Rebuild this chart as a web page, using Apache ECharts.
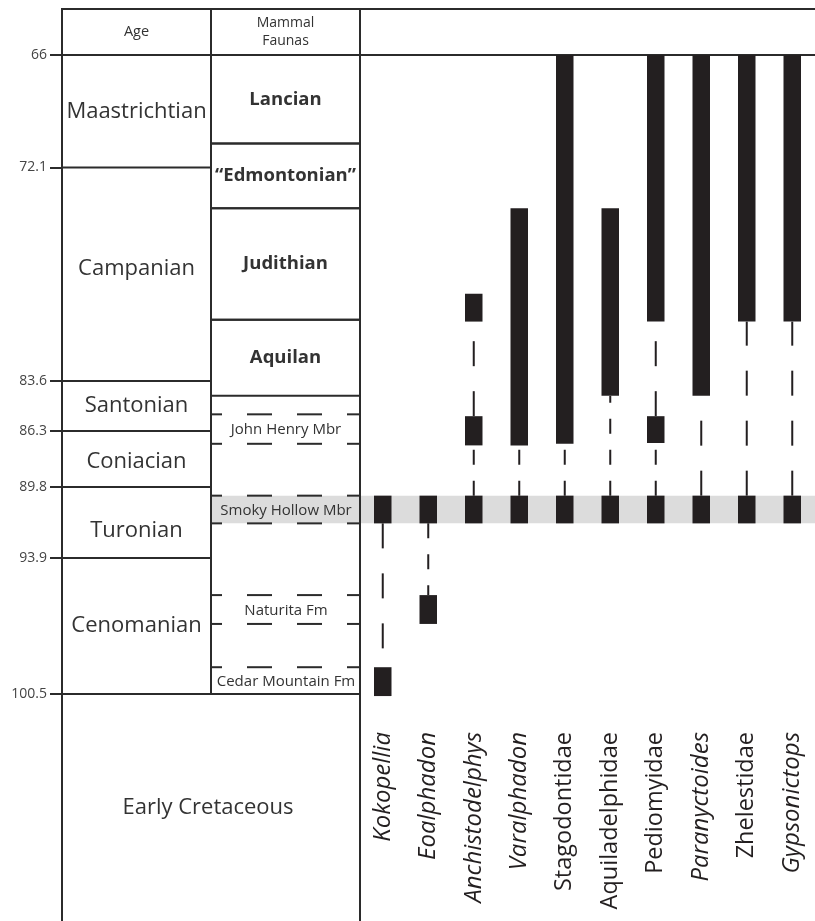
<!DOCTYPE html>
<html><head><meta charset="utf-8">
<script src="https://cdn.jsdelivr.net/npm/echarts@6/dist/echarts.min.js"></script>
<style>html,body{margin:0;padding:0;background:#fff}#c{width:815px;height:921px}</style>
</head><body><div id="c"></div>
<script>
// ---------------- data ----------------
const AGE_TICKS = [66, 72.1, 83.6, 86.3, 89.8, 93.9, 100.5];
const HEADERS = ['Age', 'Mammal\nFaunas'];
const STAGES = ['Maastrichtian', 'Campanian', 'Santonian', 'Coniacian', 'Turonian', 'Cenomanian', 'Early Cretaceous'];
const STAGE_TOP = [66, 72.1, 83.6, 86.3, 89.8, 93.9, 100.5];
const STAGE_BASE = [72.1, 83.6, 86.3, 89.8, 93.9, 100.5, null];
const FAUNAS = ['Lancian', '“Edmontonian”', 'Judithian', 'Aquilan'];
const FAUNA_TOP = [66, 70.8, 74.3, 80.3];
const FAUNA_BASE = [70.8, 74.3, 80.3, 84.4];
const UNITS = ['John Henry Mbr', 'Smoky Hollow Mbr', 'Naturita Fm', 'Cedar Mountain Fm'];
const UNIT_TOP = [85.4, 90.3, 95.7, 99.2];
const UNIT_BASE = [87.1, 91.9, 97.1, 100.5];
const HIGHLIGHT_UNIT = 'Smoky Hollow Mbr';
const TAXA = ['Kokopellia', 'Eoalphadon', 'Anchistodelphys', 'Varalphadon', 'Stagodontidae',
  'Aquiladelphidae', 'Pediomyidae', 'Paranyctoides', 'Zhelestidae', 'Gypsonictops'];
const ITALIC_TAXA = ['Kokopellia', 'Eoalphadon', 'Anchistodelphys', 'Varalphadon', 'Paranyctoides', 'Gypsonictops'];
// recorded ranges (Ma), one list per taxon
const RECORDED = [
  [[90.3, 91.9], [99.2, 100.6]],
  [[90.3, 91.9], [95.7, 97.1]],
  [[78.9, 80.4], [85.5, 87.2], [90.3, 91.9]],
  [[74.3, 87.2], [90.3, 91.9]],
  [[66, 87.1], [90.3, 91.9]],
  [[74.3, 84.4], [90.3, 91.9]],
  [[66, 80.4], [85.5, 87.05], [90.3, 91.9]],
  [[66, 84.4], [90.3, 91.9]],
  [[66, 80.4], [90.3, 91.9]],
  [[66, 80.4], [90.3, 91.9]]
];
// inferred ranges (Ma), one list per taxon
const INFERRED = [
  [[91.9, 99.2]],
  [[91.9, 95.7]],
  [[80.4, 85.5], [87.2, 90.3]],
  [[87.2, 90.3]],
  [[87.1, 90.3]],
  [[84.4, 90.3]],
  [[80.4, 85.5], [87.05, 90.3]],
  [[84.4, 90.3]],
  [[80.4, 90.3]],
  [[80.4, 90.3]]
];

// ---------------- layout / style ----------------
const SCALE_POS = [0, 112.5, 326, 376, 432, 503, 639]; // display position of each AGE_TICKS value
function pos(age) {
  const k = AGE_TICKS, p = SCALE_POS;
  let i = 0;
  while (i < k.length - 2 && age > k[i + 1]) i++;
  return p[i] + (age - k[i]) * (p[i + 1] - p[i]) / (k[i + 1] - k[i]);
}
const STAGE_LABEL_SHIFT = [0, -6, 0, 3, 8, 0, 0];
const LONG_DASH = new Set(['Kokopellia:0', 'Anchistodelphys:0', 'Pediomyidae:0', 'Paranyctoides:0', 'Zhelestidae:0', 'Gypsonictops:0']);
const FONT = 'Open Sans';
const LINE = '#2b2b2b';
const INK = '#231f20';
const TXT = '#333333';
const BAND = '#dcdcdc';
const BAR_W = 17.5;

function L(x1, y1, x2, y2, dash, off) {
  return { type: 'line', shape: { x1, y1, x2, y2 },
    style: { stroke: LINE, lineWidth: 2, lineDash: dash || null, lineDashOffset: off || 0 } };
}
function T(text, x, y, size, weight) {
  return { type: 'text', style: { text, x, y, align: 'center', verticalAlign: 'middle',
    fontFamily: FONT, fontSize: size, fontWeight: weight || 'normal', fill: TXT, lineHeight: size + 4 } };
}
const yc = (api, age) => api.coord([0, pos(age)])[1];

const chart = echarts.init(document.getElementById('c'), null, { renderer: 'canvas' });

const hi = UNITS.indexOf(HIGHLIGHT_UNIT);

const solidData = [];
RECORDED.forEach((list, t) => list.forEach(r => solidData.push([t, pos(r[0]), pos(r[1])])));
const dashData = [];
INFERRED.forEach((list, t) => list.forEach((r, k) => dashData.push([t, pos(r[0]), pos(r[1]), k])));

const option = {
  animation: false,
  backgroundColor: '#ffffff',
  grid: [
    { left: 62, top: 8, width: 298, height: 913 },
    { left: 360, top: 8, width: 462, height: 716 }
  ],
  xAxis: [
    { type: 'value', gridIndex: 0, min: 0, max: 2, show: false },
    { type: 'category', gridIndex: 1, data: TAXA, boundaryGap: true, position: 'bottom',
      axisLine: { show: false }, axisTick: { show: false }, splitLine: { show: false },
      axisLabel: { interval: 0, rotate: 90, margin: 8,
        formatter: v => (ITALIC_TAXA.includes(v) ? '{i|' : '{n|') + v + '}',
        rich: {
          i: { fontFamily: FONT, fontSize: 24, fontStyle: 'italic', color: INK },
          n: { fontFamily: FONT, fontSize: 23.5, color: INK }
        } } }
  ],
  yAxis: [
    { type: 'value', gridIndex: 0, inverse: true, min: -47, max: 866,
      axisLine: { show: false }, splitLine: { show: false },
      axisTick: { show: true, length: 12, customValues: SCALE_POS, lineStyle: { color: LINE, width: 2 } },
      axisLabel: { show: true, margin: 15, customValues: SCALE_POS, fontFamily: FONT, fontSize: 14, color: '#444',
        formatter: v => { const i = SCALE_POS.findIndex(p => Math.abs(p - v) < 0.01); return i >= 0 ? String(AGE_TICKS[i]) : ''; } } },
    { type: 'value', gridIndex: 1, inverse: true, min: -47, max: 669, show: false }
  ],
  series: [
    // highlight band, left table
    { type: 'custom', xAxisIndex: 0, yAxisIndex: 0, z: 1, silent: true,
      data: [[1, pos(UNIT_TOP[hi]), pos(UNIT_BASE[hi])]],
      renderItem(params, api) {
        const a = api.coord([api.value(0), api.value(1)]);
        const b = api.coord([2, api.value(2)]);
        return { type: 'rect', shape: { x: a[0], y: a[1], width: b[0] - a[0], height: b[1] - a[1] }, style: { fill: BAND } };
      } },
    // highlight band, plot
    { type: 'custom', xAxisIndex: 1, yAxisIndex: 1, z: 1, silent: true,
      data: [[0, pos(UNIT_TOP[hi]), pos(UNIT_BASE[hi])]],
      renderItem(params, api) {
        const cs = params.coordSys;
        const y1 = api.coord([0, api.value(1)])[1], y2 = api.coord([0, api.value(2)])[1];
        return { type: 'rect', shape: { x: cs.x, y: y1, width: cs.width, height: y2 - y1 }, style: { fill: BAND } };
      } },
    // units (dashed boxes)
    { type: 'custom', xAxisIndex: 0, yAxisIndex: 0, z: 3, silent: true,
      data: UNITS.map((u, i) => [1.5, pos(UNIT_TOP[i]), pos(UNIT_BASE[i])]),
      renderItem(params, api) {
        const i = params.dataIndex;
        const x1 = api.coord([1, 0])[0] + 1, x2 = api.coord([2, 0])[0];
        const y1 = api.coord([0, api.value(1)])[1], y2 = api.coord([0, api.value(2)])[1];
        return { type: 'group', children: [
          L(x1, y1, x2, y1, [25, 25], 15), L(x1, y2, x2, y2, [25, 25], 15),
          T(UNITS[i], (x1 + x2) / 2, (y1 + y2) / 2 + 1, 15)
        ] };
      } },
    // faunas
    { type: 'custom', xAxisIndex: 0, yAxisIndex: 0, z: 4, silent: true,
      data: FAUNAS.map((f, i) => [1.5, pos(FAUNA_TOP[i]), pos(FAUNA_BASE[i])]),
      renderItem(params, api) {
        const i = params.dataIndex;
        const x1 = api.coord([1, 0])[0], x2 = api.coord([2, 0])[0];
        const y1 = api.coord([0, api.value(1)])[1], y2 = api.coord([0, api.value(2)])[1];
        return { type: 'group', children: [
          L(x1, y1, x2, y1), L(x1, y2, x2, y2),
          T(FAUNAS[i], (x1 + x2) / 2, (y1 + y2) / 2, 18.5, 'bold')
        ] };
      } },
    // stages
    { type: 'custom', xAxisIndex: 0, yAxisIndex: 0, z: 5, silent: true,
      data: STAGES.map((s, i) => [0.5, pos(STAGE_TOP[i])]),
      renderItem(params, api) {
        const i = params.dataIndex;
        const cs = params.coordSys;
        const last = STAGE_BASE[i] == null;
        const x0 = api.coord([0, 0])[0], x1 = api.coord([last ? 2 : 1, 0])[0];
        const y1 = api.coord([0, api.value(1)])[1];
        const y2 = last ? cs.y + cs.height : yc(api, STAGE_BASE[i]);
        return { type: 'group', children: [
          L(x0, y1, x1, y1),
          T(STAGES[i], (x0 + x1) / 2 - (last ? 3 : 0), (y1 + y2) / 2 + STAGE_LABEL_SHIFT[i], 22)
        ] };
      } },
    // left frame + headers
    { type: 'custom', xAxisIndex: 0, yAxisIndex: 0, z: 6, silent: true,
      data: [[0, 0]],
      renderItem(params, api) {
        const cs = params.coordSys;
        const x0 = api.coord([0, 0])[0], x1 = api.coord([1, 0])[0], x2 = api.coord([2, 0])[0];
        const yTop = cs.y + 1, yBot = cs.y + cs.height;
        const y66 = yc(api, AGE_TICKS[0]);
        const yEnd = yc(api, AGE_TICKS[AGE_TICKS.length - 1]);
        return { type: 'group', children: [
          L(x0, yTop - 1, x0, yBot), L(x1, yTop, x1, yEnd), L(x2, yTop - 1, x2, yBot),
          L(x0, yTop, x2, yTop), L(x0, y66, x2, y66),
          T(HEADERS[0], (x0 + x1) / 2, (yTop + y66) / 2, 14.5),
          T(HEADERS[1], (x1 + x2) / 2, (yTop + y66) / 2, 14)
        ] };
      } },
    // plot frame
    { type: 'custom', xAxisIndex: 1, yAxisIndex: 1, z: 6, silent: true,
      data: [[0, 0]],
      renderItem(params, api) {
        const cs = params.coordSys;
        const yTop = cs.y + 1, y66 = yc(api, AGE_TICKS[0]);
        return { type: 'group', children: [
          L(cs.x, yTop, cs.x + cs.width, yTop), L(cs.x, y66, cs.x + cs.width, y66)
        ] };
      } },
    // inferred ranges (dashed)
    { type: 'custom', xAxisIndex: 1, yAxisIndex: 1, z: 7, silent: true,
      data: dashData,
      renderItem(params, api) {
        const t = api.value(0), top = api.value(1), base = api.value(2), k = api.value(3);
        const x = api.coord([t, 0])[0];
        const yTop = api.coord([t, top])[1], yBase = api.coord([t, base])[1];
        const dash = LONG_DASH.has(TAXA[t] + ':' + k) ? [25, 25] : [15, 16];
        // dashes are anchored at the end next to the Smoky Hollow record
        const upward = base <= pos(UNIT_TOP[hi]) + 0.01;
        const s = upward ? yBase : yTop, e = upward ? yTop : yBase;
        return { type: 'line', shape: { x1: x, y1: s, x2: x, y2: e },
          style: { stroke: INK, lineWidth: 2, lineDash: dash, lineDashOffset: 0 } };
      } },
    // recorded ranges (solid bars)
    { type: 'custom', xAxisIndex: 1, yAxisIndex: 1, z: 8, silent: true,
      data: solidData,
      renderItem(params, api) {
        const t = api.value(0);
        const a = api.coord([t, api.value(1)]), b = api.coord([t, api.value(2)]);
        return { type: 'rect', shape: { x: a[0] - BAR_W / 2, y: a[1], width: BAR_W, height: b[1] - a[1] },
          style: { fill: INK } };
      } }
  ]
};
chart.setOption(option);
</script></body></html>
